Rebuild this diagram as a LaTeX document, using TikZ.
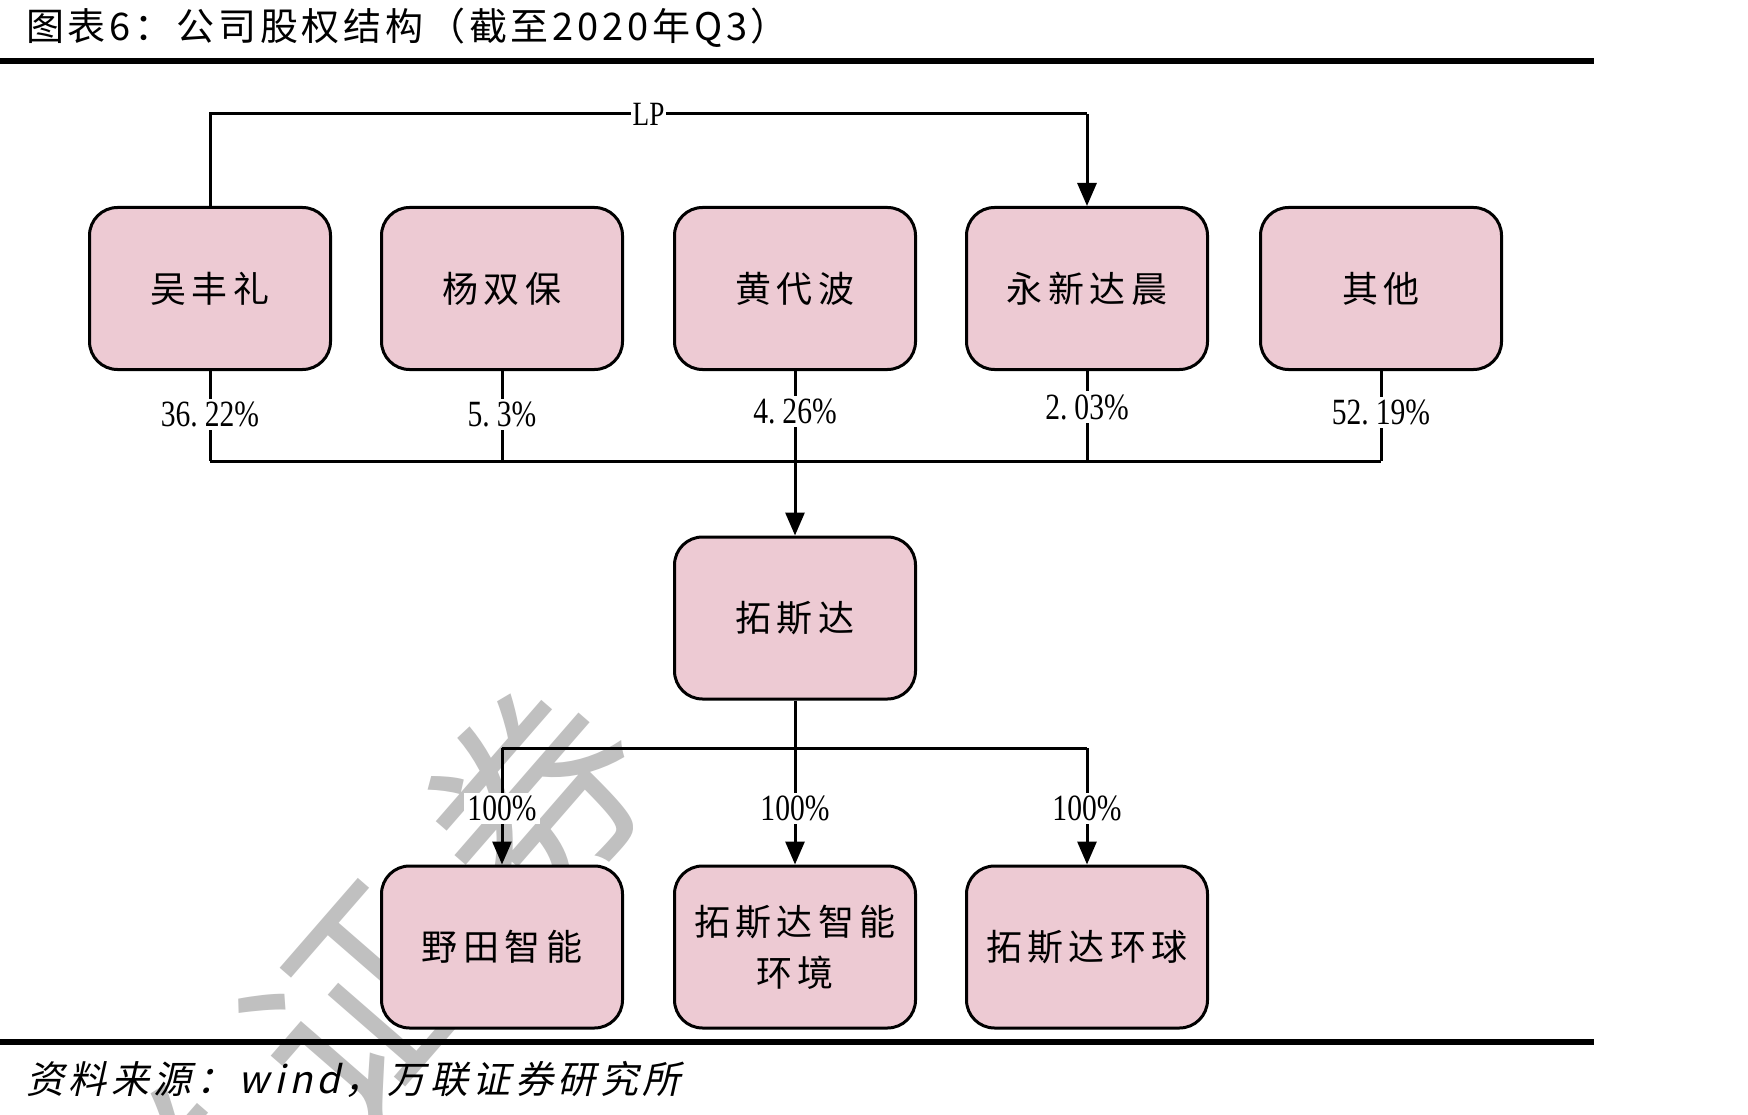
\documentclass[tikz,border=0pt]{standalone}
\usepackage{fontspec}
\setmainfont{Liberation Serif}
\newfontfamily\cjk{Noto Sans CJK SC}
\newfontfamily\boxcjk{Noto Sans CJK SC}[LetterSpace=15]
\newfontfamily\titlecjk{Noto Sans CJK SC}[LetterSpace=10]
\newfontfamily\srccjk{Noto Sans CJK SC}[LetterSpace=12,FakeSlant=0.22]
\newfontfamily\numfont{Liberation Serif}[FakeStretch=0.8]
\usetikzlibrary{arrows.meta}
\definecolor{boxpink}{RGB}{237,202,211}
\definecolor{wmgray}{RGB}{192,192,192}
\tikzset{
  box/.style={draw=black,line width=3pt,fill=boxpink,rounded corners=28pt,
    minimum width=241pt,minimum height=162pt,inner sep=0pt,align=center,
    font=\boxcjk\fontsize{36pt}{51pt}\selectfont},
  conn/.style={draw=black,line width=3pt},
  arr/.style={conn,-{Triangle[length=23pt,width=19pt]}},
  pct/.style={fill=white,inner sep=3pt,font=\numfont\fontsize{37pt}{40pt}\selectfont},
  wm/.style={text=wmgray,rotate=49,inner sep=0pt,font=\cjk\fontsize{215pt}{215pt}\selectfont},
  rule/.style={draw=black,line width=6pt}
}
\begin{document}
\begin{tikzpicture}[x=1pt,y=-1pt]
\useasboundingbox (0,0) rectangle (1748,1115);
\fill[white] (0,0) rectangle (1748,1115);
% watermark
\begin{scope}
\clip (0,0) rectangle (1748,1115);
\node[wm] (w1) at (4,1412) {万};
\node[wm] (w2) at (181,1208) {联};
\node[wm] (w3) at (358,1004) {证};
\node[wm] (w4) at (535,800) {券};
\end{scope}
% title
\node[anchor=west,inner sep=0pt,font=\titlecjk\fontsize{38pt}{40pt}\selectfont] (title) at (26,28) {图表6：公司股权结构（截至2020年Q3）};
\coordinate (tr1) at (0,61);
\coordinate (tr2) at (1594,61);
\draw[rule] (tr1) -- (tr2);
% top row
\node[box] (wu) at (210,288.5) {吴丰礼};
\node[box] (yang) at (502,288.5) {杨双保};
\node[box] (huang) at (795,288.5) {黄代波};
\node[box] (yx) at (1087,288.5) {永新达晨};
\node[box] (qt) at (1381,288.5) {其他};
% middle
\node[box] (tsd) at (795,618) {拓斯达};
% bottom row
\node[box] (yt) at (502,947) {野田智能};
\node[box] (hj) at (795,947) {拓斯达智能\\环境};
\node[box] (hq) at (1087,947) {拓斯达环球};
% LP connector
\coordinate (lpL) at (210,114);
\coordinate (lpR) at (1087,114);
\draw[conn] (wu.north) -- (lpL) -- node[pos=0.5,fill=white,inner sep=2pt,font=\numfont\fontsize{34pt}{38pt}\selectfont] (lp) {LP} (lpR);
\draw[arr] (lpR) -- (yx.north);
% upper bus
\coordinate (busL) at (210,461);
\coordinate (busR) at (1381,461);
\coordinate (busM) at (795,461);
\draw[conn] (busL) -- (busR);
\draw[conn] (wu.south) -- node[pct,pos=0.48] (p1) {36.\kern7pt22\%} (wu.south |- busL);
\draw[conn] (yang.south) -- node[pct,pos=0.48] (p2) {5.\kern7pt3\%} (yang.south |- busL);
\draw[conn] (huang.south) -- node[pct,pos=0.45] (p3) {4.\kern7pt26\%} (huang.south |- busL);
\draw[conn] (yx.south) -- node[pct,pos=0.40] (p4) {2.\kern7pt03\%} (yx.south |- busL);
\draw[conn] (qt.south) -- node[pct,pos=0.46] (p5) {52.\kern7pt19\%} (qt.south |- busL);
\draw[arr] (busM) -- (tsd.north);
% lower bus
\coordinate (lbM) at (795,748);
\coordinate (lbL) at (502,748);
\coordinate (lbR) at (1087,748);
\draw[conn] (tsd.south) -- (lbM);
\draw[conn] (lbL) -- (lbR);
\draw[arr] (lbL) -- node[pct,pos=0.52] (q1) {100\%} (yt.north);
\draw[arr] (lbM) -- node[pct,pos=0.52] (q2) {100\%} (hj.north);
\draw[arr] (lbR) -- node[pct,pos=0.52] (q3) {100\%} (hq.north);
% bottom rule and source
\coordinate (br1) at (0,1042);
\coordinate (br2) at (1594,1042);
\draw[rule] (br1) -- (br2);
\node[anchor=west,inner sep=0pt,font=\srccjk\fontsize{38pt}{40pt}\selectfont] (src) at (26,1079) {资料来源：wind，万联证券研究所};
\end{tikzpicture}
\end{document}
